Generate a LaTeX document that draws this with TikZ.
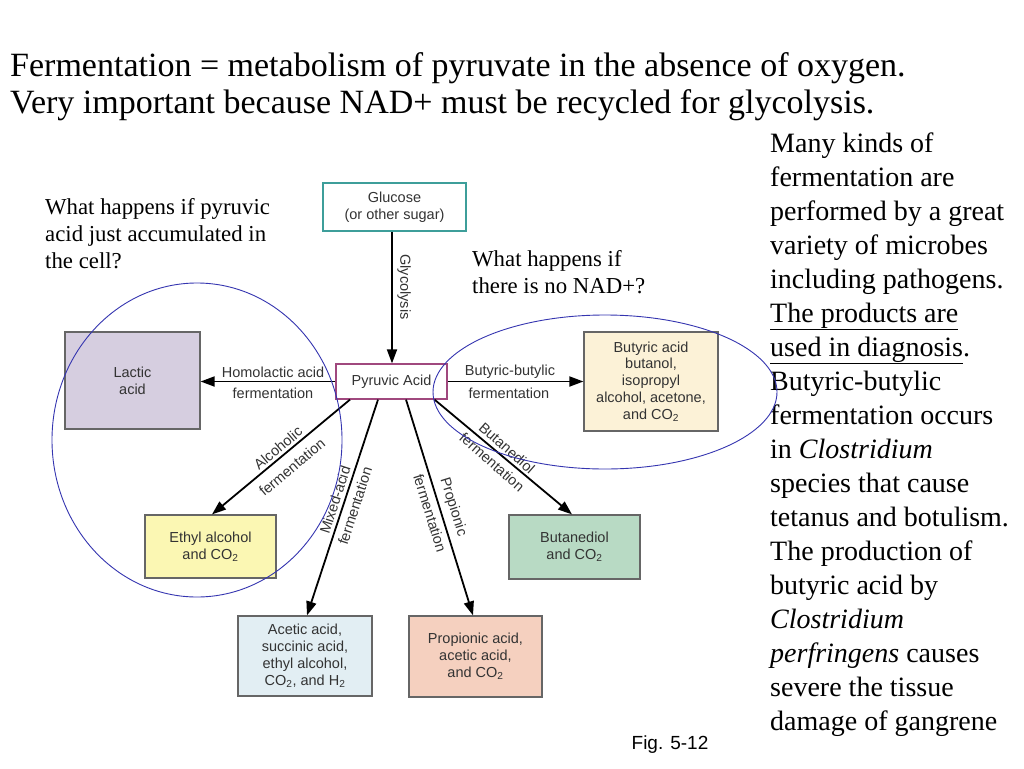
\documentclass[tikz,border=0pt]{standalone}
\usepackage{fontspec}
\setmainfont{Liberation Serif}
\newfontfamily\arialf{Liberation Sans}
\usetikzlibrary{arrows.meta}
\definecolor{diagtext}{HTML}{333333}
\definecolor{boxgray}{HTML}{666666}
\definecolor{lacticfill}{HTML}{D6CEE0}
\definecolor{butyfill}{HTML}{FCF2D7}
\definecolor{ethylfill}{HTML}{FBF7B3}
\definecolor{butdfill}{HTML}{B8DAC4}
\definecolor{aceticfill}{HTML}{E2EEF3}
\definecolor{propfill}{HTML}{F5D0BF}
\definecolor{glucdraw}{HTML}{3D9E9A}
\definecolor{pyrdraw}{HTML}{A0487E}
\definecolor{ellblue}{HTML}{3535B0}
\tikzset{
  box/.style={draw=boxgray, line width=1.2pt, inner sep=0pt, align=center,
    font=\arialf\fontsize{14.5}{16.8}\selectfont, text=diagtext},
  arr/.style={line width=1.8pt, draw=black, -{Triangle[length=14pt,width=10pt]}},
  lbl/.style={font=\arialf\fontsize{14.5}{16}\selectfont, text=diagtext, inner sep=0pt},
  ell/.style={draw=ellblue, line width=0.9pt},
  serif/.style={inner sep=0pt, align=left, text=black}
}
\begin{document}
\begin{tikzpicture}[x=1pt,y=-1pt]
\fill[white] (0,0) rectangle (1024,768);
\useasboundingbox (0,0) rectangle (1024,768);

% title
\node[serif, anchor=base west, font=\fontsize{34}{38}\selectfont] (t1) at (10,76) {Fermentation = metabolism of pyruvate in the absence of oxygen.};
\node[serif, anchor=base west, font=\fontsize{34}{38}\selectfont] (t2) at (10,113) {Very important because NAD+ must be recycled for glycolysis.};

% questions (anchor base = baseline of last line)
\node[serif, anchor=base west, font=\fontsize{22.8}{26.7}\selectfont] (q1) at (45,268) {What happens if pyruvic\\acid just accumulated in\\the cell?};
\node[serif, anchor=base west, font=\fontsize{22.8}{27}\selectfont] (q2) at (472,293) {What happens if\\there is no NAD+?};

% right text
\node[serif, anchor=base west, font=\fontsize{28}{34}\selectfont] (side) at (770,730) {Many kinds of\\fermentation are\\performed by a great\\variety of microbes\\including pathogens.\\\underline{The products are}\\\underline{used in diagnosis}.\\Butyric-butylic\\fermentation occurs\\in \textit{Clostridium}\\species that cause\\tetanus and botulism.\\The production of\\butyric acid by\\\textit{Clostridium}\\\textit{perfringens} causes\\severe the tissue\\damage of gangrene};

\node[inner sep=0pt, font=\arialf\fontsize{19}{22}\selectfont] (fig) at (670,745) {Fig. 5-12};

% boxes
\node[box, draw=glucdraw, fill=white, minimum width=143pt, minimum height=48pt] (gluc) at (394.5,207) {Glucose\\(or other sugar)};
\node[box, draw=pyrdraw, fill=white, minimum width=111pt, minimum height=35pt] (pyr) at (391.5,381.5) {Pyruvic Acid};
\node[box, fill=lacticfill, minimum width=135pt, minimum height=97pt] (lac) at (132.5,380.5) {Lactic\\acid};
\node[box, fill=butyfill, minimum width=134pt, minimum height=99pt] (buty) at (651,381.5) {Butyric acid\\butanol,\\isopropyl\\alcohol, acetone,\\and CO\textsubscript{2}};
\node[box, fill=ethylfill, minimum width=131pt, minimum height=63pt] (eth) at (210.5,546.5) {Ethyl alcohol\\and CO\textsubscript{2}};
\node[box, fill=butdfill, minimum width=131pt, minimum height=64pt] (butd) at (574.5,547) {Butanediol\\and CO\textsubscript{2}};
\node[box, fill=aceticfill, minimum width=134pt, minimum height=80pt] (acet) at (305,656) {Acetic acid,\\succinic acid,\\ethyl alcohol,\\CO\textsubscript{2}, and H\textsubscript{2}};
\node[box, fill=propfill, minimum width=133pt, minimum height=81pt] (prop) at (475.5,656.5) {Propionic acid,\\acetic acid,\\and CO\textsubscript{2}};

% arrows
\draw[arr] ([xshift=-2.5pt]gluc.south) -- ([xshift=0.5pt]pyr.north);
\draw[arr] (pyr.west) -- (pyr.west -| lac.east);
\draw[arr] (pyr.east) -- (buty.west);
\draw[arr] ([xshift=-41.5pt]pyr.south) -- ([xshift=1.5pt]eth.north);
\draw[arr] ([xshift=-13.5pt]pyr.south) -- ([xshift=2pt]acet.north);
\draw[arr] ([xshift=14.5pt]pyr.south) -- ([xshift=-2.5pt]prop.north);
\draw[arr] ([xshift=43pt]pyr.south) -- ([xshift=-2.5pt]butd.north);

% arrow labels
\node[lbl, rotate=-90] (lglyc) at (404,287) {Glycolysis};
\node[lbl] (lhom1) at (273,372) {Homolactic acid};
\node[lbl] (lhom2) at (273,393) {fermentation};
\node[lbl] (lbut1) at (510,372) {Butyric-butylic};
\node[lbl] (lbut2) at (509,393) {fermentation};
\node[lbl, rotate=40] (lalc1) at (278,448) {Alcoholic};
\node[lbl, rotate=40] (lalc2) at (292,467) {fermentation};
\node[lbl, rotate=72] (lmix1) at (335,500) {Mixed-acid};
\node[lbl, rotate=72] (lmix2) at (355,506) {fermentation};
\node[lbl, rotate=-72.6] (lpro1) at (453,507) {Propionic};
\node[lbl, rotate=-72.6] (lpro2) at (430,513) {fermentation};
\node[lbl, rotate=-41.3] (lbd1) at (507,448) {Butanediol};
\node[lbl, rotate=-41.3] (lbd2) at (492,462) {fermentation};

% ellipses
\draw[ell] (197,440) ellipse [x radius=145pt, y radius=157pt];
\draw[ell] (605,392) ellipse [x radius=172pt, y radius=77pt];
\end{tikzpicture}
\end{document}
